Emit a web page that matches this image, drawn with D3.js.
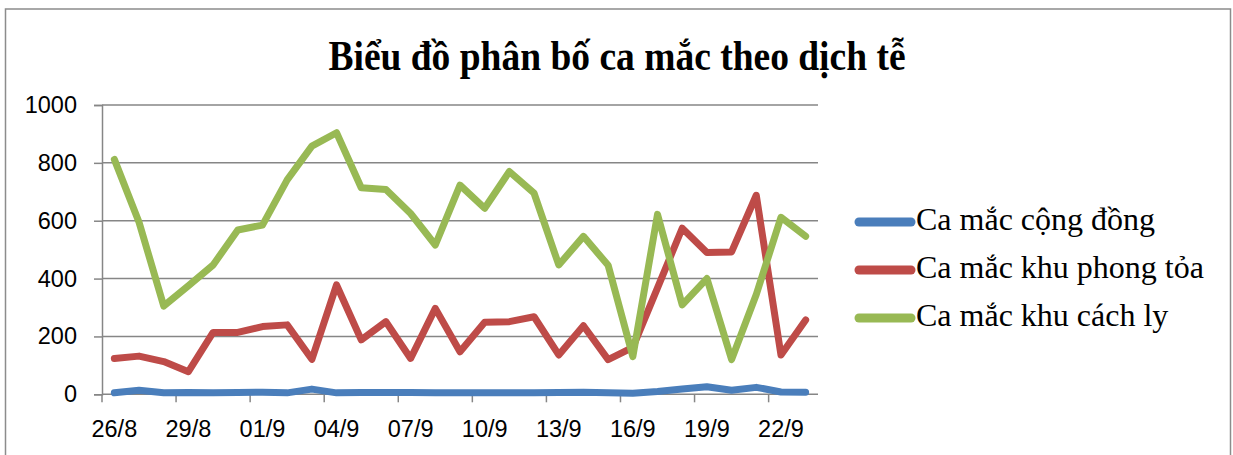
<!DOCTYPE html>
<html><head><meta charset="utf-8">
<script src="https://cdn.jsdelivr.net/npm/d3@7"></script>
<style>body{margin:0;background:#fff;overflow:hidden}</style>
</head><body><svg id="c" width="1233" height="455"></svg>
<script>
const categories = ["26/8","27/8","28/8","29/8","30/8","31/8","01/9","02/9","03/9","04/9","05/9","06/9","07/9","08/9","09/9","10/9","11/9","12/9","13/9","14/9","15/9","16/9","17/9","18/9","19/9","20/9","21/9","22/9","23/9"];
const congDong = [5,14,5,6,5,6,7,5,18,5,6,6,6,5,5,5,5,5,6,7,5,4,10,18,26,14,24,8,7];
const phongToa = [124,132,113,78,214,214,234,240,121,378,188,251,124,297,147,249,251,268,136,237,120,162,368,574,490,492,688,136,257];
const cachLy = [812,595,305,375,447,568,585,741,858,904,714,708,625,516,723,643,770,695,447,546,446,130,622,309,400,120,345,612,546];
const yTicks = [0,200,400,600,800,1000];
const seriesNames = ["Ca mắc cộng đồng","Ca mắc khu phong tỏa","Ca mắc khu cách ly"];
const seriesColors = ["#4A7EBB","#BE4B48","#98B954"];
const titleText = "Biểu đồ phân bố ca mắc theo dịch tễ";

const svg = d3.select("#c");
const L = 102, R = 818, T = 105, B = 394.3;
const x = d3.scaleBand().domain(categories).range([L, R]).padding(0);
const y = d3.scaleLinear().domain([0, 1000]).range([B, T]);
const grid = "#868686";

// outer border
svg.append("rect").attr("x", 5.5).attr("y", 9).attr("width", 1225).attr("height", 460)
  .attr("fill", "none").attr("stroke", "#8c8c8c").attr("stroke-width", 1.5);

// title
svg.append("text").attr("transform", "translate(617,70) scale(1,1.15)").attr("text-anchor", "middle")
  .style("font-family", "'Liberation Serif','Times New Roman',serif").style("font-weight", "bold")
  .style("font-size", "37.5px").attr("fill", "#000").text(titleText);

// gridlines
svg.append("g").selectAll("line").data(yTicks.filter(d => d > 0)).join("line")
  .attr("x1", L).attr("x2", R).attr("y1", d => y(d)).attr("y2", d => y(d))
  .attr("stroke", grid).attr("stroke-width", 1.5);

// y axis
const yAxis = d3.axisLeft(y).tickValues(yTicks).tickSize(8).tickPadding(17).tickFormat(d3.format("d"));
const gy = svg.append("g").attr("transform", `translate(${L},0)`).call(yAxis);
gy.select(".domain").attr("stroke", grid).attr("stroke-width", 1.5);
gy.selectAll(".tick line").attr("stroke", grid).attr("stroke-width", 1.5);
gy.selectAll("text").style("font-family", "'Liberation Sans',Arial,sans-serif").style("font-size", "23.5px").attr("fill", "#000");

// x axis
const xTickVals = categories.filter((d, i) => i % 3 === 0);
const xAxis = d3.axisBottom(x).tickValues(xTickVals).tickSize(0).tickPadding(26);
const gx = svg.append("g").attr("transform", `translate(0,${B})`).call(xAxis);
gx.select(".domain").attr("stroke", grid).attr("stroke-width", 1.5).attr("d", `M${L},0H${R}`);
gx.selectAll("text").style("font-family", "'Liberation Sans',Arial,sans-serif").style("font-size", "23.5px").attr("fill", "#000").attr("dy", "0.71em");
// tick marks between categories every 3
const bounds = categories.map((d, i) => i).filter(i => i % 3 === 0).map(i => x(categories[i]));
svg.append("g").selectAll("line").data(bounds).join("line")
  .attr("x1", d => d).attr("x2", d => d).attr("y1", B).attr("y2", B + 8)
  .attr("stroke", grid).attr("stroke-width", 1.5);

// lines
const allSeries = [congDong, phongToa, cachLy];
const line = d3.line().x((d, i) => x(categories[i]) + x.bandwidth() / 2).y(d => y(d));
allSeries.forEach((s, k) => {
  svg.append("path").datum(s).attr("d", line).attr("fill", "none")
    .attr("stroke", seriesColors[k]).attr("stroke-width", 7)
    .attr("stroke-linejoin", "round").attr("stroke-linecap", "round");
});

// legend
const lg = svg.append("g");
seriesNames.forEach((n, k) => {
  const cy = 222 + k * 48;
  lg.append("line").attr("x1", 859).attr("x2", 911).attr("y1", cy).attr("y2", cy)
    .attr("stroke", seriesColors[k]).attr("stroke-width", 9).attr("stroke-linecap", "round");
  lg.append("text").attr("x", 916).attr("y", cy + 8)
    .style("font-family", "'Liberation Serif','Times New Roman',serif").style("font-size", "32px")
    .attr("fill", "#000").text(n);
});
</script></body></html>
